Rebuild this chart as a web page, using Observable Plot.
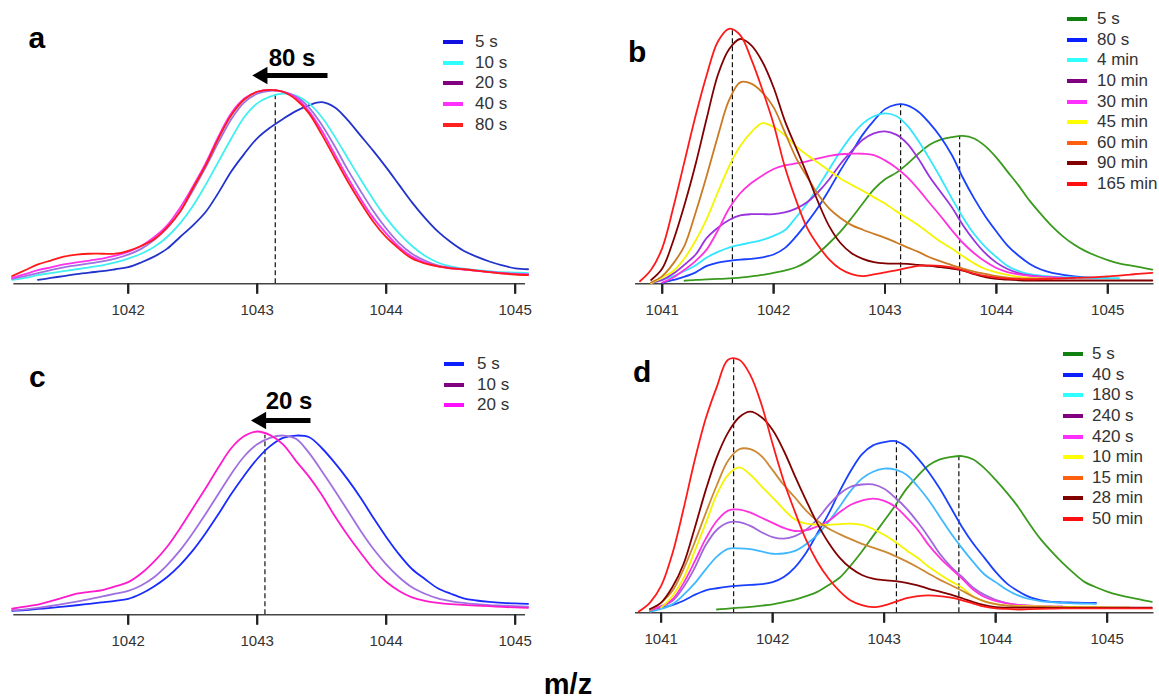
<!DOCTYPE html>
<html><head><meta charset="utf-8">
<script src="https://cdn.jsdelivr.net/npm/d3@7"></script>
<script src="https://cdn.jsdelivr.net/npm/@observablehq/plot@0.6"></script>
<style>
body{margin:0;background:#fff;}
#root{position:relative;width:1159px;height:698px;overflow:hidden;background:#fff;font-family:"Liberation Sans",Arial,sans-serif;}
.panel{position:absolute;}
.lbl{position:absolute;font-weight:bold;line-height:1;color:#000;white-space:nowrap;}
.legend{position:absolute;font-size:17px;color:#333;}
.legend .row{display:flex;align-items:center;height:20.6px;white-space:nowrap;}
.legend .sw{width:20px;height:4px;flex:none;}
</style></head><body><div id="root"></div><script>
// ---------- data ----------
const mzAC = [1041.1,1041.2,1041.3,1041.4,1041.5,1041.6,1041.7,1041.8,1041.9,1042.0,
  1042.1,1042.2,1042.3,1042.4,1042.5,1042.6,1042.7,1042.8,1042.9,1043.0,
  1043.1,1043.2,1043.3,1043.4,1043.5,1043.6,1043.7,1043.8,1043.9,1044.0,
  1044.1,1044.2,1044.3,1044.4,1044.5,1044.6,1044.7,1044.8,1044.9,1045.0,1045.1];
const mzBD = [1040.8,1040.9,
  1041.0,1041.1,1041.2,1041.3,1041.4,1041.5,1041.6,1041.7,1041.8,1041.9,
  1042.0,1042.1,1042.2,1042.3,1042.4,1042.5,1042.6,1042.7,1042.8,1042.9,
  1043.0,1043.1,1043.2,1043.3,1043.4,1043.5,1043.6,1043.7,1043.8,1043.9,
  1044.0,1044.1,1044.2,1044.3,1044.4,1044.5,1044.6,1044.7,1044.8,1044.9,
  1045.0,1045.1,1045.2,1045.3,1045.4];
const ticksAC = [1042,1043,1044,1045];
const ticksBD = [1041,1042,1043,1044,1045];

// panel a
const labelsA = ["5 s","10 s","20 s","40 s","80 s"];
const a5s  = [null,null,2,3,4,5,5.8,6.5,7.5,8.6, 11,14,18,24,30,37,47,58,67,75, 80.5,85,89,92,93.6,91,84.5,76.5,68.5,60, 51,42,34,27,21.5,17,14,11.5,9.5,8, 7.5];
const a10s = [2,3,4.5,5.5,6.5,7.5,8.5,9.5,11,13, 15.5,19,24,31,40,51,63,75,86,93, 96.5,98,97,93,86,76,65,54,43.5,34, 26,19.5,14.5,11,9,7.8,7,6.5,6,5.8, 5.5];
const a20s = [2.5,4,5.5,7,8.5,9.5,10.5,11.5,13,15, 18,22.5,28.5,37,48,60,73,85,93.5,98, 99.5,99,96.5,91,82,71,59,48,37.5,28.5, 21,15.5,12,9.5,8.3,7.5,6.8,6.2,5.6,5.2, 5];
const a40s = [3,5,7,8.5,10,11,12,13,14.5,16.5, 19.5,24,30,39,50,62,76,88,95.5,99, 100,99,96,89,79,67,55,44,34,26, 19,14,11,9,8,7.3,6.7,6,5.5,5, 4.8];
const a80s = [4,7,10,12,14,15,15.5,15.5,15.5,17, 19.5,23,29,37,49,61,75,87,95,99, 100,99,95,88,77,65,53,42,32,24, 18,13,10.5,9,8,7.5,6.8,6,5.3,4.8, 4.5];

// panel b
const labelsB = ["5 s","80 s","4 min","10 min","30 min","45 min","60 min","90 min","165 min"];
const b5s    = [null,null, null,null,1.2,1.5,1.7,1.9,2.1,2.4,2.9,3.5, 4.3,5.2,6.5,8.7,12,16,20.5,25.8,31.5,37, 41,43.5,47,51,54.5,56.5,57.5,58,57,54, 49.5,44,38.5,32.5,27.3,22.5,18.5,15.3,12.8,10.9, 9.3,8,7.2,6.4,5.6];
const b80s   = [null,null, 0.3,1.5,2.8,4.5,7,8.3,9,9.5,9.8,10.4, 11.5,14,18.5,24,30,37,44.5,51.5,58.5,64, 68.5,70.3,70,67.5,63,57.5,50.5,41.5,33.5,26.5, 20.5,15,11,7.8,5.6,4.3,3.5,2.9,2.5,2.3, 2.2,null,null,null,null];
const b4min  = [null,0.3, 1.5,3,5,7.3,10.3,12.5,14.2,15.3,16.2,17.2, 18.8,21,26,31.5,38,45,52,58,62.8,65.7, 66.8,65.8,62,56,49,41.5,33.5,26,19.5,14.5, 10.5,7,5,3.8,3.2,2.8,2.6,2.5,2.4,2.3, 2.2,2.2,null,null,null];
const b10min = [null,0.3, 1.5,4,7.5,11.5,18,22,25,26.8,27.3,27.3, 27.3,28,29.5,32,36,41,47,52,56.5,59, 59.8,58.5,55,49,42,36,30,23,17,12, 8.3,5.8,4.2,3.3,2.8,2.5,2.3,2.2,null,null, null,null,null,null,null];
const b30min = [null,null, 0.5,2.5,5.5,9,13.5,21,29.5,35.5,39.5,42.5, 45,46.4,47.2,48,49.2,50.2,50.8,51,51,50.5, 48.4,45.5,41.8,37,31.7,26.5,21,16,12,8.7, 6.2,4.6,3.7,3.1,2.7,2.5,2.3,null,null,null, null,null,null,null,null];
const b45min = [null,0.2, 2.5,5,10,17,25.5,36,46,54,59.5,63, 61.5,58.3,54,50.5,47.5,44.3,41.3,38.8,36.5,34, 31.5,28.5,25.8,23,19.7,16.5,13.8,10.8,8,5.8, 4.5,3.5,2.7,2.3,2.1,2,null,null,null,null, null,null,null,null,null];
const b60min = [null,0.5, 3,8,15,28,42.5,58,72,79,78.5,75, 69.2,59.5,49.5,42,35,29.5,25.8,23,21.2,19.6, 18,16.2,14.3,12.5,10.4,8.8,7.3,6,4.8,3.9, 3,2.4,2.1,2,2,2,null,null,null,null, null,null,null,null,null];
const b90min = [null,1.5, 6,17,31,47,65,82,92,96,93.5,87, 77,64,53.5,43,32,22.5,16,12,9.8,8.5, 8,7.9,7.8,7.4,7,6.5,6,5.2,3.8,2.6, 1.9,1.6,1.4,1.3,1.3,1.3,1.3,1.3,1.3,1.3, 1.3,1.3,1.3,1.3,1.3];
const b165min= [1,5.5, 14,30,48,66,82,95,100,97.5,88,76, 62.6,46,33,22,15,9.5,5.8,3.8,3,3.7, 4.5,5.3,6.2,7,7.2,7,6.4,5.3,4,3.1, 2.4,2,1.8,1.7,1.8,2,2.1,2.3,2.4,2.6, 2.9,3.2,3.6,4,4.3];

// panel c
const labelsC = ["5 s","10 s","20 s"];
const c5s  = [2.2,2.6,3.2,3.8,4.5,5.2,6,6.8,7.6,8.7, 11.5,15.5,20.5,27,35,44.5,55,66,76,85, 92,96.5,97.8,97,91,83,74,64,53,42.5, 33,25,19.5,14.5,11.5,9,7.8,7,6.5,6.2, 6];
const c10s = [2.4,3,3.8,4.8,6,7.2,8.5,10,11.5,13, 16,20.5,27,35,44.5,55,66,77,86.5,93, 96.5,97.8,96,88.5,78.5,68,57,46,36,27.5, 20.5,15,11.5,9,7.5,6.5,5.8,5.3,5,4.7, 4.5];
const c20s = [3.3,4.5,5.6,7.5,9.5,11.5,12.5,13.5,15.5,17.8, 22.5,29,37,47,58,69,80.5,91,97.5,100, 98,93,84,75.5,65.5,54,43.5,34,25,18, 13,9.5,7.6,6.5,5.8,5.4,5,4.7,4.3,4, 3.8];

// panel d
const labelsD = ["5 s","40 s","180 s","240 s","420 s","10 min","15 min","28 min","50 min"];
const d5s    = [null,null, null,null,null,null,null,1.3,1.6,2,2.3,2.8, 3.3,4.2,5.2,6.5,8.2,10.8,13.7,18.5,24,30, 36,42,48.5,53.5,57.7,60,61,61.3,60,56.5, 52,47,41.5,35,29,24,19.5,15.5,12,10, 8.3,7,6,5.2,4.3];
const d40s   = [null,1.3, 2,3,4.7,7,8.8,9.6,10.2,10.6,10.9,11.2, 12,14,17.8,23.5,31,38.6,47.5,55.5,62,65.5, 66.8,67.2,65,60.5,55,48.5,41,33.5,27,21.5, 16,11.5,8.5,6.2,5,4.3,4.1,4,3.9,3.9, null,null,null,null,null];
const d180s  = [null,0.5, 1.5,3.3,7,11.5,17,22,25,25.2,24.9,24, 23.1,23.2,24.2,26.8,30.5,35.5,41.5,47.7,52.5,55.2, 56.4,56,54,49.5,44,37.5,31,25.2,19.8,15, 12,9,6.8,5.4,4.6,4.2,3.9,3.7,3.6,3.5, null,null,null,null,null];
const d240s  = [null,1, 2.5,4.6,10,17.5,26.5,32.5,35.3,35.5,34,31.5, 29.6,29,30,32.5,36.6,42,46.5,49.3,50.2,50.2, 48.5,45,40.8,35.5,29.5,23,18,14,9.8,7, 5.1,3.8,3.1,2.8,2.6,2.5,null,null,null,null, null,null,null,null,null];
const d420s  = [null,1, 2.5,5.2,11.5,20,29,36,40,40.4,39.2,37.2, 35.2,33.2,32,32.3,33.8,35.9,39.3,42.3,43.9,44.7, 43.8,41.5,37.3,32.5,26.5,21.5,17.3,13.3,9,6.2, 4.7,3.7,3.1,2.8,2.6,2.5,2.5,null,null,null, null,null,null,null,null];
const d10min = [null,null, 2,6.5,13.5,24,35,46.4,54,56.9,54,49.5, 45.1,40.5,36.5,34.9,34.5,34.4,34.7,34.9,34.4,32.8, 30.5,27.7,24.5,21.5,18,15,12.3,9.8,6.3,4.5, 3.4,2.9,2.7,2.6,2.5,2.4,2.3,2.3,2.2,2.2, 2.1,2,2,null,null];
const d15min = [null,1, 4,8.5,17,27.5,39,50,59.5,64,64,61.3, 55.8,50,45.1,40,36,33,30.8,28.8,27,25.5, 24,22.2,20.1,17.8,15.3,12.9,10.8,8.6,6.3,4.5, 3.4,2.8,2.5,2.3,2.2,2.1,2.1,2,2,2, 2,2,2,null,null];
const d28min = [null,1.5, 4,10,19,33,48,61,70.5,76.5,78.7,76.5, 71.5,63.4,53.5,44,35,27.5,21.6,17.5,14.8,13.4, 12.8,12.4,11.7,10.7,9.4,8.3,7.1,5.7,4.2,3, 2.2,2,2,2,2,2,2,2,2,2, 2,2,2,2,2];
const d50min = [0.5,4, 10.5,23,40.5,59.5,76,88.5,99,99,93,81.5, 66,51.5,39.5,28.5,20,13.5,8.5,4.8,3,2.2, 2.9,4.3,5.7,6.5,6.8,6.5,5.9,4.9,3.6,2.4, 1.7,1.5,1.3,1.4,1.5,1.6,1.7,1.7,1.7,1.7, 1.7,1.7,1.7,1.7,1.7];

// reference (dashed) lines: m/z and height reached
const rulesA = [{mz:1043.14, top:100}];
const rulesB = [{mz:1041.63, top:100},{mz:1043.14, top:70.5},{mz:1043.67, top:58}];
const rulesC = [{mz:1043.06, top:98}];
const rulesD = [{mz:1041.65, top:100},{mz:1043.11, top:67.3},{mz:1043.67, top:61.3}];

// shift annotations
const annotA = [{label:"80 s", tx:1043.27, ty:116, x1:1043.545, x2:1043.04, y:107.4}];
const annotC = [{label:"20 s", tx:1043.247, ty:116.4, x1:1043.413, x2:1043.03, y:106}];

// colours
const lineColorsA = ["#2233cc","#40f0f0","#a070e0","#ff30ee","#ff1a1a"];
const legendColorsA = ["#1010e0","#30ffff","#800080","#ff30ff","#ff2020"];
const lineColorsB = ["#3a9a1e","#1a40ff","#33e6ff","#9933dd","#ff33dd","#f5f500","#cc7a22","#800000","#ff1a1a"];
const legendColorsB = ["#108010","#0a20ff","#30ffff","#800080","#ff30ff","#ffff00","#ff6010","#800000","#ff1010"];
const lineColorsC = ["#1a2aff","#a070e0","#ff1acc"];
const legendColorsC = ["#0a20ff","#800080","#ff10ff"];
const lineColorsD = ["#3a9a1e","#1a40ff","#40b8ff","#a066dd","#ff33dd","#f5f500","#cc8833","#800000","#ff1a1a"];
const legendColorsD = legendColorsB;

// ---------- drawing ----------
const root = document.getElementById("root");
const FONT = '"Liberation Sans", Arial, sans-serif';
const TICK_PX = 10;

function makePanel(cfg, grid, names, seriesList, colors, rules, annot, ticks) {
  const rows = [];
  seriesList.forEach((vals, k) => vals.forEach((v, i) => {
    if (v != null) rows.push({mz: grid[i], v, s: names[k]});
  }));
  const tickLen = TICK_PX * 100 / (cfg.height - cfg.mT - cfg.mB);
  const tickRows = ticks.map(t => ({t, y1: 0, y2: -tickLen}));
  const marks = [
    Plot.link(tickRows, {x1: "t", x2: "t", y1: "y1", y2: "y2", stroke: "#222", strokeWidth: 2}),
    Plot.ruleY([0], {stroke: "#444", strokeWidth: 1.5}),
    Plot.axisX({ticks, tickSize: 10, tickPadding: 11, stroke: "#222", strokeWidth: 2,
      fontSize: 15, tickFormat: d => String(d), label: null}),
    Plot.ruleX(rules, {x: "mz", y1: 0, y2: "top", stroke: "#111", strokeWidth: 1.2, strokeDasharray: "5,3"}),
    Plot.line(rows, {x: "mz", y: "v", z: "s", stroke: "s", strokeWidth: 1.8, curve: "catmull-rom"})
  ];
  if (annot) {
    marks.push(
      Plot.link(annot, {x1: "x1", x2: "x2", y1: "y", y2: "y", stroke: "black", strokeWidth: 5}),
      Plot.dot(annot, {x: "x2", y: "y", symbol: "triangle", r: 6.5, fill: "black", stroke: null, rotate: -90}),
      Plot.text(annot, {x: "tx", y: "ty", text: "label", fontSize: 24, fontWeight: "bold", fill: "black"})
    );
  }
  const svg = Plot.plot({
    width: cfg.width, height: cfg.height,
    marginLeft: cfg.mL, marginRight: cfg.mR, marginTop: cfg.mT, marginBottom: cfg.mB,
    x: {domain: cfg.xDomain},
    y: {domain: [0, 100], axis: null},
    color: {domain: names, range: colors},
    style: {fontFamily: FONT, fontSize: "15px", color: "#333", background: "transparent", overflow: "visible"},
    marks
  });
  const div = document.createElement("div");
  div.className = "panel";
  div.style.left = cfg.left + "px";
  div.style.top = cfg.top + "px";
  div.style.width = cfg.width + "px";
  div.appendChild(svg);
  root.appendChild(div);
}

function makeLegend(names, colors, left, top, gap) {
  const lg = document.createElement("div");
  lg.className = "legend";
  lg.style.left = left + "px";
  lg.style.top = top + "px";
  names.forEach((n, i) => {
    const r = document.createElement("div");
    r.className = "row";
    const sw = document.createElement("span");
    sw.className = "sw";
    sw.style.background = colors[i];
    sw.style.marginRight = gap + "px";
    const t = document.createElement("span");
    t.textContent = n;
    r.appendChild(sw); r.appendChild(t);
    lg.appendChild(r);
  });
  root.appendChild(lg);
}

function label(text, left, top, size) {
  const d = document.createElement("div");
  d.className = "lbl";
  d.style.left = left + "px";
  d.style.top = top + "px";
  d.style.fontSize = size + "px";
  d.textContent = text;
  root.appendChild(d);
  return d;
}

makePanel({left:0, top:0, width:545, height:330, mL:13.3, mR:20, mT:89.3, mB:46.7, xDomain:[1041.113,1045.08]},
  mzAC, labelsA, [a5s,a10s,a20s,a40s,a80s], lineColorsA, rulesA, annotA, ticksAC);
makePanel({left:580, top:0, width:579, height:330, mL:55, mR:5.5, mT:28.3, mB:46.7, xDomain:[1040.76,1045.415]},
  mzBD, labelsB, [b5s,b80s,b4min,b10min,b30min,b45min,b60min,b90min,b165min], lineColorsB, rulesB, null, ticksBD);
makePanel({left:0, top:330, width:545, height:340, mL:13.3, mR:20, mT:101, mB:55.7, xDomain:[1041.113,1045.08]},
  mzAC, labelsC, [c5s,c10s,c20s], lineColorsC, rulesC, annotC, ticksAC);
makePanel({left:580, top:330, width:579, height:340, mL:55, mR:5.5, mT:26.7, mB:57.7, xDomain:[1040.77,1045.42]},
  mzBD, labelsD, [d5s,d40s,d180s,d240s,d420s,d10min,d15min,d28min,d50min], lineColorsD, rulesD, null, ticksBD);

makeLegend(labelsA, legendColorsA, 443, 32, 12);
makeLegend(labelsB, legendColorsB, 1067, 9, 10);
makeLegend(labelsC, legendColorsC, 444, 354, 13);
makeLegend(labelsD, legendColorsD, 1063, 344, 9);

label("a", 28.5, 22.6, 30);
label("b", 628, 36.6, 30);
label("c", 29, 361.6, 30);
label("d", 633, 356.6, 30);
const mz = label("m/z", 468, 669.5, 29);
mz.style.width = "200px"; mz.style.textAlign = "center";
</script></body></html>
